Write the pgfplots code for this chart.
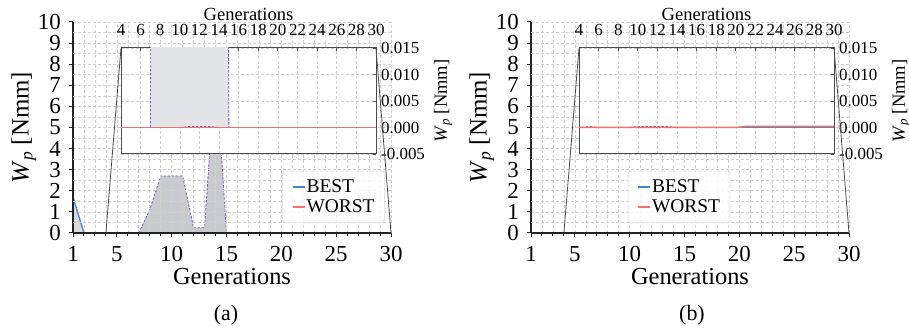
\documentclass[border=0pt]{standalone}
\usepackage{fontspec}
\setmainfont{Liberation Serif}
\usepackage{pgfplots}
\usepackage{pgfplotstable}
\pgfplotsset{compat=1.18}

\definecolor{bestc}{RGB}{66,136,208}
\definecolor{worstc}{RGB}{238,116,104}
\definecolor{spreadc}{RGB}{122,92,170}
\definecolor{filla}{RGB}{201,202,205}
\definecolor{fillb}{RGB}{216,218,221}
\definecolor{fillc}{RGB}{228,229,232}
\definecolor{gridc}{RGB}{208,208,208}
\definecolor{spinec}{RGB}{35,35,35}
\definecolor{insc}{RGB}{75,75,75}

\newcommand\tickfont{\fontsize{23}{27}\selectfont}
\newcommand\labfont{\fontsize{24.5}{29}\selectfont}
\newcommand\wpfont{\fontsize{25}{30}\selectfont}
\newcommand\insfont{\fontsize{17}{19}\selectfont}
\newcommand\inslabfont{\fontsize{18.6}{22}\selectfont}
\newcommand\legfont{\fontsize{19.5}{22}\selectfont}
\newcommand\capfont{\fontsize{22}{26}\selectfont}
\newcommand\Wp{\textit{W}\textsubscript{\textit{p}}}

% ---------- data ----------
\pgfplotstableread{
x y
1 1.7
2 0
}\spreadAone
\pgfplotstableread{
x y
7 0
8 1.1
9 2.7
10 2.7
11 2.7
12 0.25
13 0.25
14 8.0
15 0
}\spreadAtwo
\pgfplotstableread{
x y
10 0
11 0.0002
12 0.0002
13 0.0002
14 0
}\lowA
\pgfplotstableread{
x y
1 1.7
2 0
3 0
4 0
5 0
6 0
7 0
8 0
9 0
10 0
11 0
12 0
13 0
14 0
15 0
16 0
17 0
18 0
19 0
20 0
21 0
22 0
23 0
24 0
25 0
26 0
27 0
28 0
29 0
30 0
}\bestA
\pgfplotstableread{
x y
1 0
5 0
10 0
15 0
20 0
25 0
30 0
}\worstA
\pgfplotstableread{
x y
1 0
2 0
3 0
4 0
5 0.0002
6 0
7 0
8 0
9 0
10 0.0002
11 0.0002
12 0.0002
13 0.0002
14 0
15 0
20 0
25 0
30 0
}\spreadB
\pgfplotstableread{
x y
1 0
5 0
10 0
15 0
20 0
25 0
30 0
}\bestB
\pgfplotstableread{
x y
1 0
5 0
10 0
15 0
20 0
21 0.0002
22 0.0002
23 0.0002
24 0.0002
25 0.0002
26 0.0002
27 0.0002
28 0.0002
29 0.0002
30 0.0002
}\worstB

\tikzset{conn/.style={insc, line width=0.8bp}}
\pgfplotsset{
  gridsty/.style={dash pattern=on 3bp off 2bp, gridc, line width=0.6bp},
  sprd/.style={spreadc, line width=0.8bp, dash pattern=on 2.5bp off 1.5bp},
  beststy/.style={bestc, line width=1.3bp, solid},
  worststy/.style={worstc, line width=1.3bp, solid},
  mainax/.style={
    scale only axis, width=318bp, height=211bp,
    xmin=1, xmax=30, ymin=0, ymax=10,
    axis lines*=left,
    axis line style={-, line width=1.3bp, spinec},
    xtick={1,5,10,15,20,25,30}, minor xtick={1,...,30},
    xticklabels={1,5,10,15,20,25,30},
    ytick={0,...,10},
    yticklabels={0,1,2,3,4,5,6,7,8,9,10},
    extra y ticks={0.5,1.5,...,9.5}, extra y tick labels={},
    extra y tick style={grid=major, tick style={draw=none}},
    grid=both, major grid style={gridsty}, minor grid style={gridsty},
    tick align=outside, major tick length=4bp, minor tick length=3bp,
    tick style={spinec, line width=1bp},
    ticklabel style={font=\tickfont},
    xticklabel style={anchor=base, inner sep=0pt, yshift=-24bp},
    yticklabel style={anchor=east, inner sep=0pt, xshift=-8bp},
    xlabel={\labfont Generations},
    xlabel style={at={(axis description cs:0.5,-0.245)}, anchor=base},
    ylabel={\wpfont\Wp{} [Nmm]},
    ylabel style={at={(axis description cs:-0.155,0.5)}, anchor=center},
    axis on top,
    legend cell align=left,
    legend image code/.code={\draw[#1, line width=2bp] (0bp,0bp) -- (12bp,0bp);},
    legend style={draw=gray!22, rounded corners=3bp, fill=white, fill opacity=0.8,
      text opacity=1, font=\legfont, inner xsep=9bp, inner ysep=8bp,
      row sep=3bp, nodes={inner sep=1bp}, line width=0.8bp},
  },
  insax/.style={
    scale only axis, width=255bp, height=106bp,
    xmin=4, xmax=30, ymin=-0.005, ymax=0.015,
    restrict y to domain*=-0.5:0.5,
    axis background/.style={fill=white},
    axis line style={insc, line width=1bp},
    xtick={4,6,...,30},
    xticklabels={4,6,8,10,12,14,16,18,20,22,24,26,28,30},
    ytick={-0.005,0,0.005,0.01,0.015},
    yticklabels={-0.005,0.000,0.005,0.010,0.015},
    scaled y ticks=false,
    xtick pos=right, xticklabel pos=right,
    ytick pos=right, yticklabel pos=right,
    tick align=inside, major tick length=3bp,
    tick style={insc, line width=0.9bp},
    grid=major, major grid style={gridsty},
    ticklabel style={font=\insfont},
    xticklabel style={anchor=base, inner sep=0pt, yshift=12bp},
    yticklabel style={anchor=west, inner sep=0pt, xshift=5bp},
    xlabel={\inslabfont Generations},
    xlabel style={at={(axis description cs:0.5,1.264)}, anchor=base},
  },
}

\begin{document}
\begin{tikzpicture}
% ================= panel (a) =================
\begin{scope}
\clip (0,0) rectangle (453bp,331bp);
\begin{axis}[mainax, at={(73bp,98bp)}, anchor=south west,
    legend style={at={(axis description cs:0.981,0.047)}, anchor=south east}]
  \addplot[fill=fillb, draw=none, forget plot] table {\spreadAone} \closedcycle;
  \addplot[fill=filla, draw=none, forget plot] table {\spreadAtwo} \closedcycle;
  \addplot[sprd, forget plot] table {\spreadAtwo};
  \addplot[sprd, forget plot] table {\lowA};
  \addplot[beststy] table {\bestA};
  \addplot[worststy] table {\worstA};
  \legend{BEST,WORST}
  \coordinate (pa4) at (axis cs:4,0);
  \coordinate (pa30) at (axis cs:30,0);
\end{axis}
\begin{axis}[insax, name=insA, at={(121bp,177bp)}, anchor=south west]
  \addplot[fill=fillc, draw=none, forget plot] table {\spreadAtwo} \closedcycle;
  \addplot[sprd, forget plot] table {\spreadAtwo};
  \addplot[sprd, forget plot] table {\lowA};
  \addplot[bestc, line width=0.9bp] table {\bestA};
  \addplot[worstc, line width=1.5bp] coordinates {(1,0) (5,0) (10,0) (15,0) (20,0) (25,0) (30,0)};
\end{axis}
\node[rotate=90, anchor=center, inner sep=0pt] at ([xshift=67bp]insA.east)
  {\inslabfont\Wp{} [Nmm]};
\draw[conn] (pa4) -- (insA.north west);
\draw[conn] (pa30) -- (insA.north east);
\node[font=\capfont, anchor=base] at (226bp,11bp) {(a)};
\end{scope}

% ================= panel (b) =================
\begin{axis}[mainax, at={(531bp,98bp)}, anchor=south west,
    legend style={at={(axis description cs:0.304,0.047)}, anchor=south west}]
  \addplot[sprd, forget plot] table {\spreadB};
  \addplot[beststy] table {\bestB};
  \addplot[worststy] table {\worstB};
  \legend{BEST,WORST}
  \coordinate (pb4) at (axis cs:4,0);
  \coordinate (pb30) at (axis cs:30,0);
\end{axis}
\begin{axis}[insax, name=insB, at={(579bp,177bp)}, anchor=south west]
  \addplot[sprd, forget plot] table {\spreadB};
  \addplot[bestc, line width=0.9bp] table {\bestB};
  \addplot[worstc, line width=1.5bp] table {\worstB};
\end{axis}
\node[rotate=90, anchor=center, inner sep=0pt] at ([xshift=67bp]insB.east)
  {\inslabfont\Wp{} [Nmm]};
\draw[conn] (pb4) -- (insB.north west);
\draw[conn] (pb30) -- (insB.north east);
\node[font=\capfont, anchor=base] at (692bp,11bp) {(b)};

\pgfresetboundingbox
\useasboundingbox (0,0) rectangle (909bp,331bp);
\end{tikzpicture}
\end{document}
